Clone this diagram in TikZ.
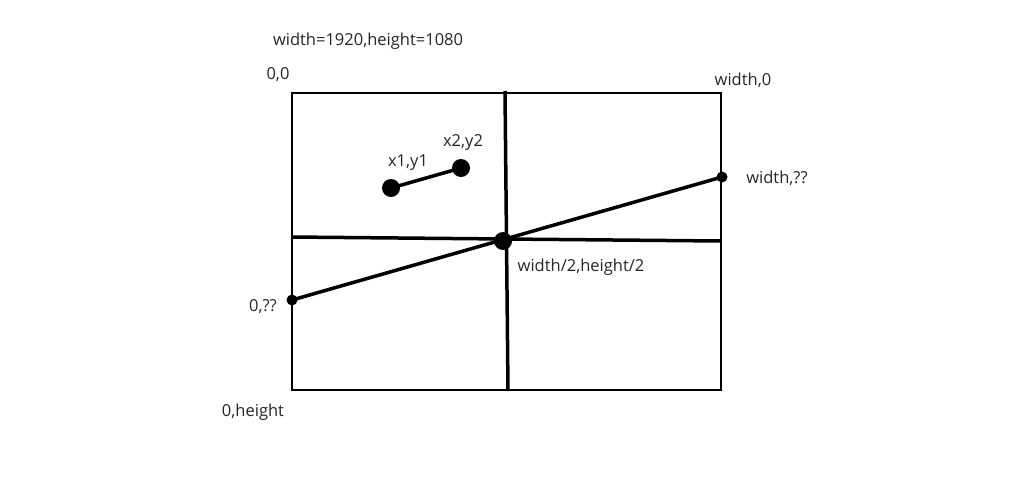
\documentclass[tikz,border=0pt]{standalone}
\usepackage{fontspec}
\setmainfont{Open Sans}
\begin{document}
\begin{tikzpicture}[x=1pt,y=-1pt,
  lbl/.style={text=black!85, font=\fontsize{16.5}{18}\selectfont, inner sep=0pt},
  thick3/.style={line width=3.5pt},
  bigdot/.style={circle, fill=black, minimum size=18pt, inner sep=0pt},
  smalldot/.style={circle, fill=black, minimum size=11pt, inner sep=0pt}]
\useasboundingbox[fill=white] (0,0) rectangle (1024,477);
\draw[line width=1.8pt] (292,93) rectangle (721,390);
\node[lbl] (title) at (368,41) {width=1920,height=1080};
\node[lbl] (o) at (278,75) {0,0};
\node[lbl] (w0) at (743,80) {width,0};
\node[lbl] (wq) at (777,178) {width,??};
\node[lbl] (zq) at (263,307) {0,??};
\node[lbl] (h) at (253,412) {0,height};
\node[lbl] (c) at (581,267) {width/2,height/2};
\node[lbl] (l1) at (408,163) {x1,y1};
\node[lbl] (l2) at (463,143) {x2,y2};
\coordinate (vt) at (505,91);
\coordinate (vb) at (508,391);
\coordinate (hl) at (291,237);
\coordinate (hr) at (721,241);
\draw[thick3] (vt) -- (vb);
\draw[thick3] (hl) -- (hr);
\node[smalldot] (pl) at (292,300) {};
\node[smalldot] (pr) at (722,177) {};
\draw[thick3] (pl.center) -- (pr.center);
\node[bigdot] (mid) at (503,241) {};
\node[bigdot] (p1) at (391,188) {};
\node[bigdot] (p2) at (461,168) {};
\draw[thick3] (p1.center) -- (p2.center);
\end{tikzpicture}
\end{document}
